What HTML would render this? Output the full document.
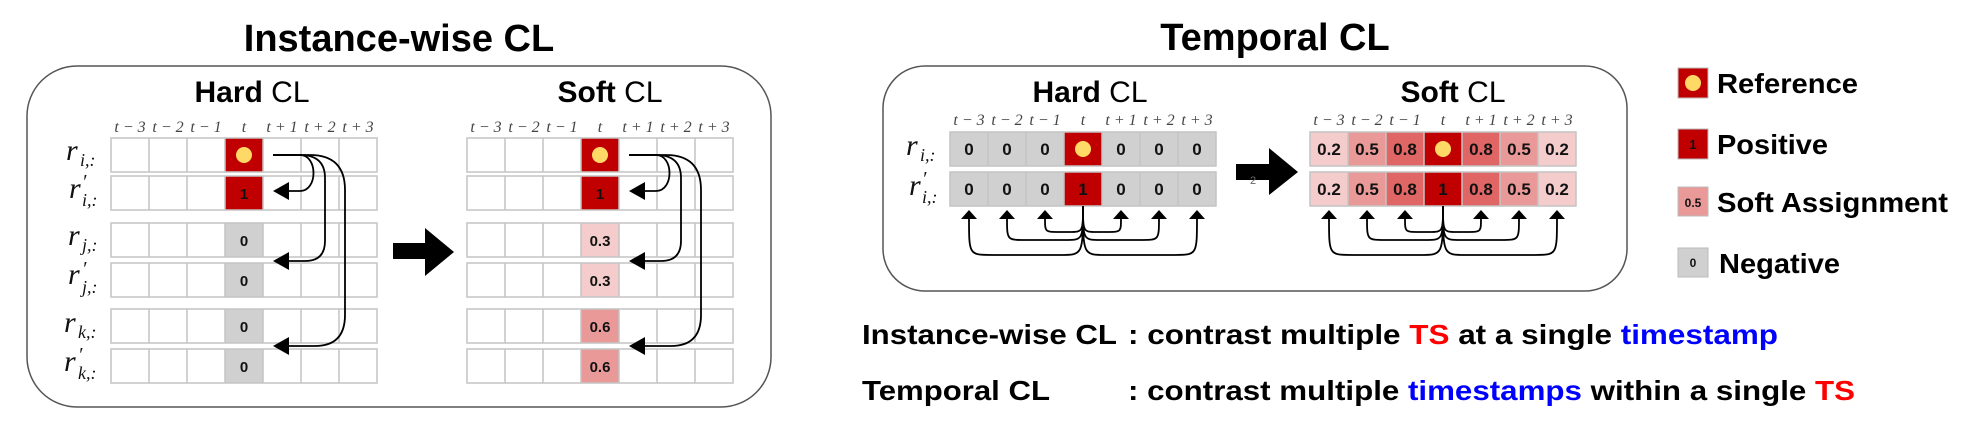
<!DOCTYPE html>
<html><head><meta charset="utf-8"><style>
html,body{margin:0;padding:0;background:#fff;}
svg{display:block;}
.b{font-family:"Liberation Sans",Arial,sans-serif;font-weight:bold;}
.r{font-family:"Liberation Sans",Arial,sans-serif;}
.m{font-family:"Liberation Serif",serif;font-style:italic;fill:#444;font-size:16px;}
.rl{font-family:"Liberation Serif",serif;font-style:italic;fill:#111;}
.n{font-family:"Liberation Sans",Arial,sans-serif;font-weight:bold;font-size:15px;fill:#111;text-anchor:middle;}
.nt{font-family:"Liberation Sans",Arial,sans-serif;font-weight:bold;font-size:17px;fill:#111;text-anchor:middle;}
</style></head><body>
<svg width="1963" height="432" viewBox="0 0 1963 432" xmlns="http://www.w3.org/2000/svg">
<defs>
<g id="row">
<rect x="0" y="0" width="266" height="34" fill="none" stroke="#c4c4c4" stroke-width="1.5"/>
<path d="M38 0V34M76 0V34M114 0V34M152 0V34M190 0V34M228 0V34" stroke="#c4c4c4" stroke-width="1.5"/>
</g>
</defs>

<text x="399" y="51" class="b" font-size="38" text-anchor="middle">Instance-wise CL</text>
<text x="1275" y="50" class="b" font-size="38" text-anchor="middle">Temporal CL</text>

<rect x="27" y="66" width="744" height="341" rx="50" fill="none" stroke="#555" stroke-width="1.5"/>
<text x="252" y="102" text-anchor="middle" font-size="30"><tspan class="b">Hard</tspan><tspan class="r"> CL</tspan></text>
<text x="610" y="102" text-anchor="middle" font-size="30"><tspan class="b">Soft</tspan><tspan class="r"> CL</tspan></text>

<g class="m" text-anchor="middle">
<text x="130" y="132">t − 3</text><text x="168" y="132">t − 2</text><text x="206" y="132">t − 1</text><text x="244" y="132">t</text><text x="282" y="132">t + 1</text><text x="320" y="132">t + 2</text><text x="358" y="132">t + 3</text>
<text x="486" y="132">t − 3</text><text x="524" y="132">t − 2</text><text x="562" y="132">t − 1</text><text x="600" y="132">t</text><text x="638" y="132">t + 1</text><text x="676" y="132">t + 2</text><text x="714" y="132">t + 3</text>
</g>

<rect x="225" y="138" width="38" height="34" fill="#C00000"/>
<rect x="225" y="176" width="38" height="34" fill="#C00000"/>
<rect x="225" y="223" width="38" height="34" fill="#D0D0D0"/>
<rect x="225" y="263" width="38" height="34" fill="#D0D0D0"/>
<rect x="225" y="309" width="38" height="34" fill="#D0D0D0"/>
<rect x="225" y="349" width="38" height="34" fill="#D0D0D0"/>
<rect x="581" y="138" width="38" height="34" fill="#C00000"/>
<rect x="581" y="176" width="38" height="34" fill="#C00000"/>
<rect x="581" y="223" width="38" height="34" fill="#F4CCCC"/>
<rect x="581" y="263" width="38" height="34" fill="#F4CCCC"/>
<rect x="581" y="309" width="38" height="34" fill="#EA9999"/>
<rect x="581" y="349" width="38" height="34" fill="#EA9999"/>

<use href="#row" x="111" y="138"/><use href="#row" x="111" y="176"/><use href="#row" x="111" y="223"/><use href="#row" x="111" y="263"/><use href="#row" x="111" y="309"/><use href="#row" x="111" y="349"/>
<use href="#row" x="467" y="138"/><use href="#row" x="467" y="176"/><use href="#row" x="467" y="223"/><use href="#row" x="467" y="263"/><use href="#row" x="467" y="309"/><use href="#row" x="467" y="349"/>

<circle cx="244" cy="155" r="8" fill="#FFD966"/>
<circle cx="600" cy="155" r="8" fill="#FFD966"/>
<text x="244" y="199" class="n">1</text>
<text x="244" y="246" class="n">0</text>
<text x="244" y="286" class="n">0</text>
<text x="244" y="332" class="n">0</text>
<text x="244" y="372" class="n">0</text>
<text x="600" y="199" class="n">1</text>
<text x="600" y="246" class="n">0.3</text>
<text x="600" y="286" class="n">0.3</text>
<text x="600" y="332" class="n">0.6</text>
<text x="600" y="372" class="n">0.6</text>

<g class="rl">
<text x="66" y="160" font-size="30">r</text><text x="80" y="166" font-size="18">i,:</text>
<text x="69" y="198" font-size="30">r</text><text x="82" y="188" font-size="20">′</text><text x="82" y="206" font-size="18">i,:</text>
<text x="68" y="245" font-size="30">r</text><text x="82" y="251" font-size="18">j,:</text>
<text x="68" y="284" font-size="30">r</text><text x="82" y="275" font-size="20">′</text><text x="82" y="293" font-size="18">j,:</text>
<text x="64" y="332" font-size="30">r</text><text x="78" y="338" font-size="18">k,:</text>
<text x="64" y="371" font-size="30">r</text><text x="78" y="361" font-size="20">′</text><text x="78" y="379" font-size="18">k,:</text>
</g>

<g fill="none" stroke="#000" stroke-width="1.8">
<path d="M273 155H300C318 155 318 191 300 191H287"/>
<path d="M273 155H300Q325 155 325 178V241Q325 261 305 261H287"/>
<path d="M273 155H310Q345 155 345 190V315Q345 346 315 346H287"/>
<path d="M629 155H656C674 155 674 191 656 191H643"/>
<path d="M629 155H656Q681 155 681 178V241Q681 261 661 261H643"/>
<path d="M629 155H666Q701 155 701 190V315Q701 346 671 346H643"/>
</g>
<g fill="#000">
<polygon points="273,191 289,182 289,200"/>
<polygon points="273,261 289,252 289,270"/>
<polygon points="273,346 289,337 289,355"/>
<polygon points="629,191 645,182 645,200"/>
<polygon points="629,261 645,252 645,270"/>
<polygon points="629,346 645,337 645,355"/>
</g>
<polygon points="393,243 425,243 425,228 454,252 425,276 425,259 393,259" fill="#000"/>

<rect x="883" y="66" width="744" height="225" rx="42" fill="none" stroke="#555" stroke-width="1.5"/>
<text x="1090" y="102" text-anchor="middle" font-size="30"><tspan class="b">Hard</tspan><tspan class="r"> CL</tspan></text>
<text x="1453" y="102" text-anchor="middle" font-size="30"><tspan class="b">Soft</tspan><tspan class="r"> CL</tspan></text>

<g class="m" text-anchor="middle">
<text x="969" y="125">t − 3</text><text x="1007" y="125">t − 2</text><text x="1045" y="125">t − 1</text><text x="1083" y="125">t</text><text x="1121" y="125">t + 1</text><text x="1159" y="125">t + 2</text><text x="1197" y="125">t + 3</text>
<text x="1329" y="125">t − 3</text><text x="1367" y="125">t − 2</text><text x="1405" y="125">t − 1</text><text x="1443" y="125">t</text><text x="1481" y="125">t + 1</text><text x="1519" y="125">t + 2</text><text x="1557" y="125">t + 3</text>
</g>

<rect x="950" y="132" width="266" height="34" fill="#D0D0D0"/>
<rect x="950" y="172" width="266" height="34" fill="#D0D0D0"/>
<rect x="1064" y="132" width="38" height="34" fill="#C00000"/>
<rect x="1064" y="172" width="38" height="34" fill="#C00000"/>
<g>
<rect x="1310" y="132" width="38" height="34" fill="#F4CCCC"/><rect x="1348" y="132" width="38" height="34" fill="#EA9999"/><rect x="1386" y="132" width="38" height="34" fill="#E06666"/><rect x="1424" y="132" width="38" height="34" fill="#C00000"/><rect x="1462" y="132" width="38" height="34" fill="#E06666"/><rect x="1500" y="132" width="38" height="34" fill="#EA9999"/><rect x="1538" y="132" width="38" height="34" fill="#F4CCCC"/>
<rect x="1310" y="172" width="38" height="34" fill="#F4CCCC"/><rect x="1348" y="172" width="38" height="34" fill="#EA9999"/><rect x="1386" y="172" width="38" height="34" fill="#E06666"/><rect x="1424" y="172" width="38" height="34" fill="#C00000"/><rect x="1462" y="172" width="38" height="34" fill="#E06666"/><rect x="1500" y="172" width="38" height="34" fill="#EA9999"/><rect x="1538" y="172" width="38" height="34" fill="#F4CCCC"/>
</g>
<use href="#row" x="950" y="132"/><use href="#row" x="950" y="172"/>
<use href="#row" x="1310" y="132"/><use href="#row" x="1310" y="172"/>

<circle cx="1083" cy="149" r="8" fill="#FFD966"/>
<circle cx="1443" cy="149" r="8" fill="#FFD966"/>
<g>
<text x="969" y="155" class="nt">0</text><text x="1007" y="155" class="nt">0</text><text x="1045" y="155" class="nt">0</text><text x="1121" y="155" class="nt">0</text><text x="1159" y="155" class="nt">0</text><text x="1197" y="155" class="nt">0</text>
<text x="969" y="195" class="nt">0</text><text x="1007" y="195" class="nt">0</text><text x="1045" y="195" class="nt">0</text><text x="1083" y="195" class="nt">1</text><text x="1121" y="195" class="nt">0</text><text x="1159" y="195" class="nt">0</text><text x="1197" y="195" class="nt">0</text>
<text x="1329" y="155" class="nt">0.2</text><text x="1367" y="155" class="nt">0.5</text><text x="1405" y="155" class="nt">0.8</text><text x="1481" y="155" class="nt">0.8</text><text x="1519" y="155" class="nt">0.5</text><text x="1557" y="155" class="nt">0.2</text>
<text x="1329" y="195" class="nt">0.2</text><text x="1367" y="195" class="nt">0.5</text><text x="1405" y="195" class="nt">0.8</text><text x="1443" y="195" class="nt">1</text><text x="1481" y="195" class="nt">0.8</text><text x="1519" y="195" class="nt">0.5</text><text x="1557" y="195" class="nt">0.2</text>
</g>

<g class="rl">
<text x="906" y="155" font-size="30">r</text><text x="920" y="161" font-size="18">i,:</text>
<text x="909" y="195" font-size="30">r</text><text x="922" y="185" font-size="20">′</text><text x="922" y="203" font-size="18">i,:</text>
</g>

<g fill="none" stroke="#000" stroke-width="1.8">
<path d="M1083 206C1083 232 1083 232 1069 232H1059C1045 232 1045 232 1045 218"/>
<path d="M1083 206C1083 232 1083 232 1097 232H1107C1121 232 1121 232 1121 218"/>
<path d="M1083 206C1083 240 1083 240 1065 240H1025C1007 240 1007 240 1007 218"/>
<path d="M1083 206C1083 240 1083 240 1101 240H1141C1159 240 1159 240 1159 218"/>
<path d="M1083 206C1083 255 1083 255 1060 255H992C969 255 969 255 969 218"/>
<path d="M1083 206C1083 255 1083 255 1106 255H1174C1197 255 1197 255 1197 218"/>
<path d="M1443 206C1443 232 1443 232 1429 232H1419C1405 232 1405 232 1405 218"/>
<path d="M1443 206C1443 232 1443 232 1457 232H1467C1481 232 1481 232 1481 218"/>
<path d="M1443 206C1443 240 1443 240 1425 240H1385C1367 240 1367 240 1367 218"/>
<path d="M1443 206C1443 240 1443 240 1461 240H1501C1519 240 1519 240 1519 218"/>
<path d="M1443 206C1443 255 1443 255 1420 255H1352C1329 255 1329 255 1329 218"/>
<path d="M1443 206C1443 255 1443 255 1466 255H1534C1557 255 1557 255 1557 218"/>
</g>
<g fill="#000">
<polygon points="969,210 961,219 977,219"/><polygon points="1007,210 999,219 1015,219"/><polygon points="1045,210 1037,219 1053,219"/><polygon points="1121,210 1113,219 1129,219"/><polygon points="1159,210 1151,219 1167,219"/><polygon points="1197,210 1189,219 1205,219"/>
<polygon points="1329,210 1321,219 1337,219"/><polygon points="1367,210 1359,219 1375,219"/><polygon points="1405,210 1397,219 1413,219"/><polygon points="1481,210 1473,219 1489,219"/><polygon points="1519,210 1511,219 1527,219"/><polygon points="1557,210 1549,219 1565,219"/>
</g>
<polygon points="1236,164 1269,164 1269,148 1298,172 1269,195 1269,180 1236,180" fill="#000"/>
<text x="1250" y="184" class="r" font-size="11" fill="#666">2</text>

<rect x="1678" y="68" width="30" height="30" fill="#C00000" stroke="#bbb"/>
<circle cx="1693" cy="83" r="8" fill="#FFD966"/>
<text x="1717" y="93" class="b" font-size="28" textLength="141" lengthAdjust="spacingAndGlyphs">Reference</text>
<rect x="1678" y="129" width="30" height="30" fill="#C00000" stroke="#bbb"/>
<text x="1693" y="149" class="b" font-size="13" text-anchor="middle" fill="#111">1</text>
<text x="1717" y="154" class="b" font-size="28" textLength="111" lengthAdjust="spacingAndGlyphs">Positive</text>
<rect x="1678" y="187" width="30" height="29" fill="#EA9999" stroke="#bbb"/>
<text x="1693" y="207" class="b" font-size="12" text-anchor="middle" fill="#111">0.5</text>
<text x="1717" y="212" class="b" font-size="28" textLength="231" lengthAdjust="spacingAndGlyphs">Soft Assignment</text>
<rect x="1678" y="248" width="30" height="29" fill="#D0D0D0" stroke="#bbb"/>
<text x="1693" y="267" class="b" font-size="12" text-anchor="middle" fill="#111">0</text>
<text x="1719" y="273" class="b" font-size="28" textLength="121" lengthAdjust="spacingAndGlyphs">Negative</text>

<text x="862" y="344" class="b" font-size="28" textLength="255" lengthAdjust="spacingAndGlyphs">Instance-wise CL</text>
<text x="1128" y="344" class="b" font-size="28" textLength="650" lengthAdjust="spacingAndGlyphs">: contrast multiple <tspan fill="#FF0000">TS</tspan> at a single <tspan fill="#0000FF">timestamp</tspan></text>
<text x="862" y="400" class="b" font-size="28" textLength="188" lengthAdjust="spacingAndGlyphs">Temporal CL</text>
<text x="1128" y="400" class="b" font-size="28" textLength="727" lengthAdjust="spacingAndGlyphs">: contrast multiple <tspan fill="#0000FF">timestamps</tspan> within a single <tspan fill="#FF0000">TS</tspan></text>
</svg>
</body></html>
